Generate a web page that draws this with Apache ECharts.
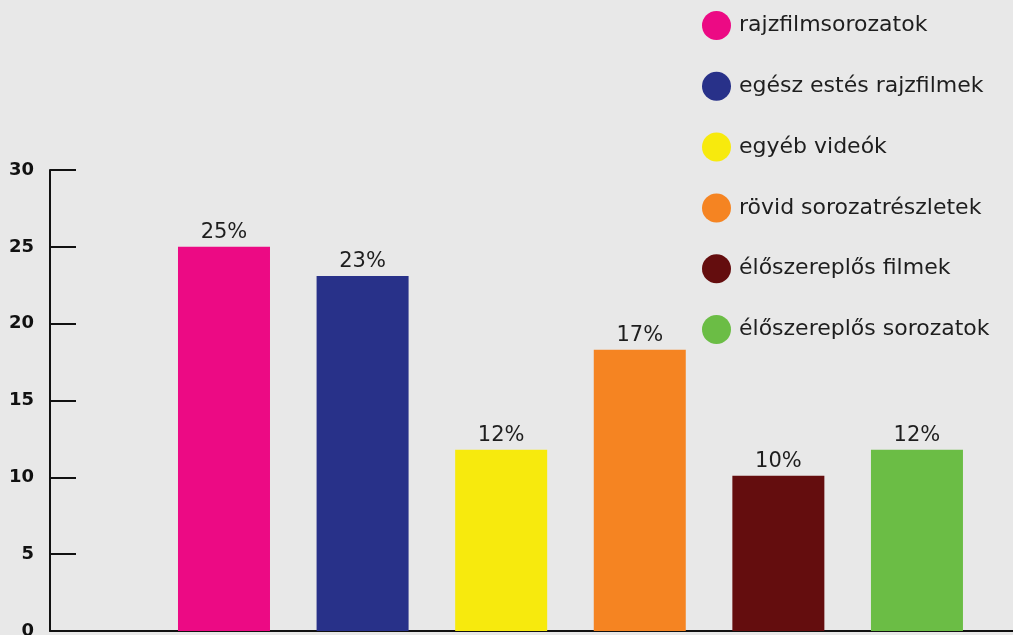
<!DOCTYPE html>
<html>
<head>
    <meta charset="utf-8" />
    <title>ECharts</title>
    <script src="https://cdn.jsdelivr.net/npm/echarts@6/dist/echarts.min.js"></script>
    <style>
        html, body { margin: 0; padding: 0; background: #e8e8e8; }
        #main { width: 1013px; height: 635px; }
    </style>
</head>
<body>
    <div id="main"></div>
    <script type="text/javascript">
    // adatok
    var categories = ['rajzfilmsorozatok', 'egész estés rajzfilmek', 'egyéb videók',
                      'rövid sorozatrészletek', 'élőszereplős filmek', 'élőszereplős sorozatok'];
    var values = [25, 23.1, 11.8, 18.3, 10.1, 11.8];
    var labels = ['25%', '23%', '12%', '17%', '10%', '12%'];
    var colors = ['#ec0a84', '#283189', '#f7ea0d', '#f58422', '#640d0e', '#6bbd45'];
    var yTicks = [0, 5, 10, 15, 20, 25, 30];

    var myChart = echarts.init(document.getElementById('main'));

    var series = categories.map(function (name, i) {
        return {
            name: name,
            type: 'bar',
            data: [[i + 1, values[i]]],
            barWidth: 92,
            barGap: '-100%',
            itemStyle: { color: colors[i] },
            label: {
                show: true,
                position: 'top',
                distance: 4,
                formatter: function () { return labels[i]; },
                color: '#1e1e1e',
                fontFamily: 'DejaVu Sans',
                fontWeight: 'normal',
                fontSize: 21
            }
        };
    });

    var option = {
        backgroundColor: '#e8e8e8',
        animation: false,
        color: colors,
        legend: {
            orient: 'vertical',
            left: 702,
            top: 11,
            padding: 0,
            itemWidth: 29,
            itemHeight: 29,
            itemGap: 31.8,
            icon: 'circle',
            textStyle: {
                fontFamily: 'DejaVu Sans',
                fontSize: 22,
                color: '#1e1e1e',
                padding: [0, 0, 0, 3]
            },
            data: categories
        },
        grid: { left: 50, right: 0, top: 170, bottom: 4, outerBoundsMode: 'none' },
        xAxis: {
            type: 'value',
            min: -0.2554,
            max: 6.693,
            axisLine: { show: true, onZero: false, lineStyle: { color: '#111', width: 2 } },
            axisTick: { show: false },
            axisLabel: { show: false },
            splitLine: { show: false }
        },
        yAxis: {
            type: 'value',
            min: yTicks[0],
            max: yTicks[yTicks.length - 1],
            interval: 5,
            axisLine: { show: true, onZero: false, lineStyle: { color: '#111', width: 2 } },
            axisTick: { show: true, inside: true, length: 26, lineStyle: { color: '#111', width: 2 } },
            axisLabel: {
                margin: 16,
                color: '#111',
                fontFamily: 'DejaVu Sans',
                fontWeight: 'bold',
                fontSize: 18
            },
            splitLine: { show: false }
        },
        series: series
    };

    myChart.setOption(option);
    </script>
</body>
</html>
